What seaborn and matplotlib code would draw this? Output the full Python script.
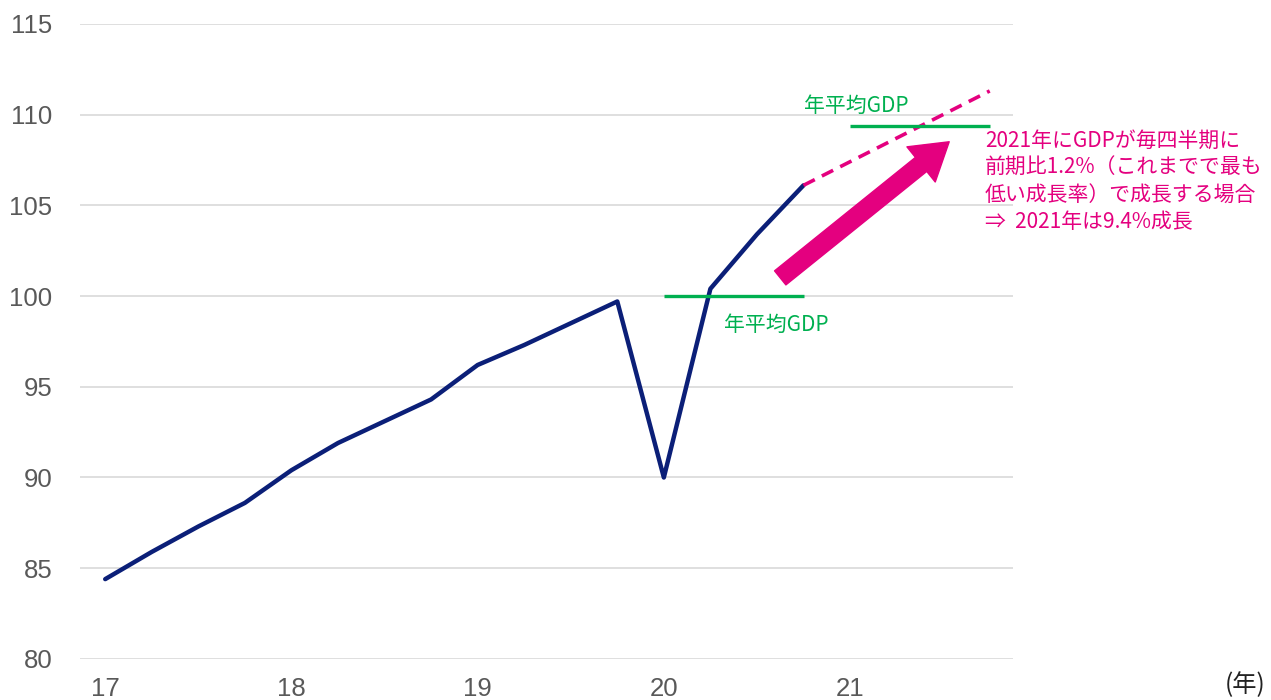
import matplotlib
matplotlib.use("Agg")
import numpy as np
import pandas as pd
import seaborn as sns
import matplotlib.pyplot as plt

# quarterly real GDP index, 2017Q1 - 2020Q4
quarters = ["17Q1", "17Q2", "17Q3", "17Q4", "18Q1", "18Q2", "18Q3", "18Q4",
            "19Q1", "19Q2", "19Q3", "19Q4", "20Q1", "20Q2", "20Q3", "20Q4"]
gdp = [84.4, 85.9, 87.3, 88.6, 90.4, 91.9, 93.1, 94.3,
       96.2, 97.3, 98.5, 99.7, 90.0, 100.4, 103.4, 106.1]

# projection for 2021 (+1.2% q/q)
proj_quarters = ["20Q4", "21Q1", "21Q2", "21Q3", "21Q4"]
proj = [106.1, 107.4, 108.7, 110.0, 111.3]

all_quarters = quarters + proj_quarters[1:]
year_labels = ["17", "18", "19", "20", "21"]
y_ticks = [80, 85, 90, 95, 100, 105, 110, 115]

annot_text = ("2021年にGDPが毎四半期に\n前期比1.2%（これまでで最も\n"
              "低い成長率）で成長する場合\n⇒  2021年は9.4%成長")

pos = {q: i for i, q in enumerate(all_quarters)}
df = pd.DataFrame({"x": [pos[q] for q in quarters], "gdp": gdp})
df_proj = pd.DataFrame({"x": [pos[q] for q in proj_quarters], "gdp": proj})

sns.set_style("white")
plt.rcParams["font.family"] = ["Liberation Sans", "Noto Sans CJK JP", "DejaVu Sans"]
jp_font = ["Noto Sans CJK JP", "DejaVu Sans"]

fig = plt.figure(figsize=(12.71, 7.0), dpi=100)
ax = fig.add_axes([0.063, 0.0586, 0.734, 0.9074])

sns.lineplot(data=df, x="x", y="gdp", ax=ax, color="#0b1f78", linewidth=3.2)
sns.lineplot(data=df_proj, x="x", y="gdp", ax=ax, color="#e4007f",
             linewidth=2.6, linestyle=(0, (3.5, 2.2)))

# yearly averages
green = "#00b050"
avg20 = np.mean(gdp[12:16])
avg21 = np.mean(proj[1:])
ax.hlines(avg20, pos["20Q1"], pos["20Q4"], color=green, linewidth=2.4)
ax.hlines(avg21, pos["21Q1"], pos["21Q4"], color=green, linewidth=2.4)
ax.text(pos["20Q2"] + 0.3, avg20 - 0.95, "年平均GDP", color=green, fontsize=15,
        family=jp_font, va="top", ha="left")
ax.text(pos["20Q4"] + 0.02, avg21 + 0.5, "年平均GDP", color=green, fontsize=15,
        family=jp_font, va="bottom", ha="left")

# growth arrow
ax.annotate("", xy=(pos["21Q3"] + 0.13, 108.5), xytext=(pos["20Q3"] + 0.5, 101.0),
            arrowprops=dict(arrowstyle="simple,head_length=2.0,head_width=2.5,tail_width=1.0",
                            mutation_scale=13, color="#e4007f", shrinkA=0, shrinkB=0))
ax.text(pos["21Q4"] - 0.1, 109.15, annot_text, color="#e4007f", fontsize=15,
        family=jp_font, va="top", ha="left", linespacing=1.3)

ax.set_xlim(-0.54, 19.5)
ax.set_ylim(80, 115)
ax.set_xticks([pos[y + "Q1"] for y in year_labels])
ax.set_xticklabels(year_labels)
ax.set_yticks(y_ticks)
ax.yaxis.grid(True, color="#d9d9d9", linewidth=1.2)
ax.set_axisbelow(True)
for s in ax.spines.values():
    s.set_visible(False)
ax.tick_params(axis="both", length=0, labelsize=18.5, labelcolor="#595959")
ax.tick_params(axis="y", pad=20)
ax.tick_params(axis="x", pad=13)
ax.set_xlabel("")
ax.set_ylabel("")
fig.text(0.996, 0.022, "(年)", ha="right", va="center", fontsize=17.5,
         family=["Noto Sans CJK JP"], color="#222222")

fig.savefig("out.png", dpi=100)
